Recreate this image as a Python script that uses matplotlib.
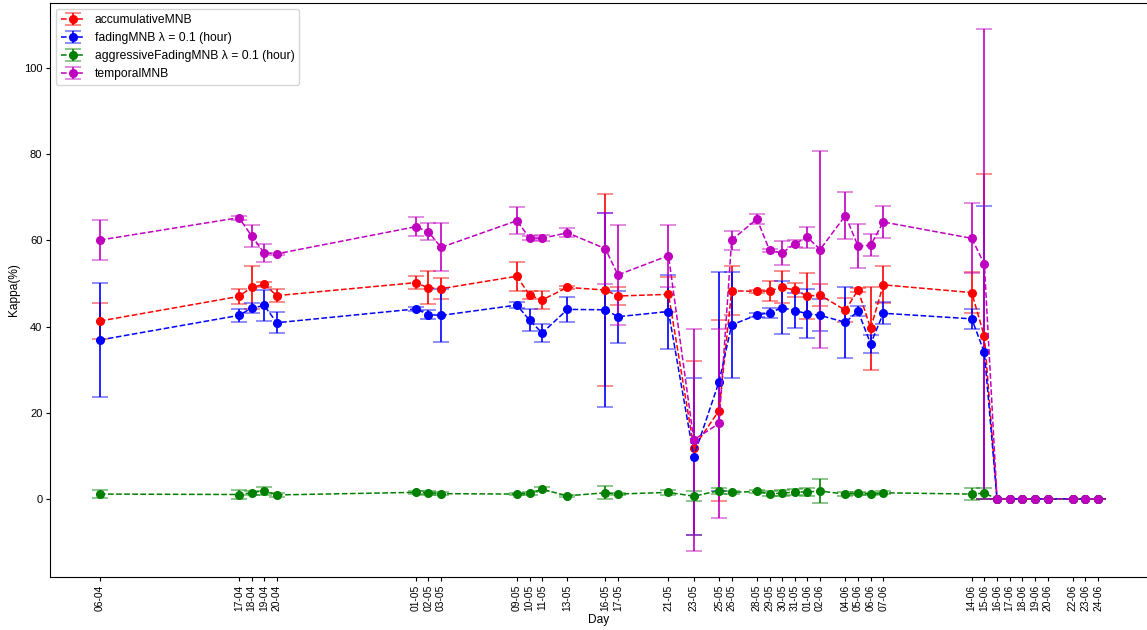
import datetime as dt

import matplotlib
matplotlib.use("Agg")
import matplotlib.pyplot as plt
import matplotlib.dates as mdates

plt.rcParams['font.family'] = ['Liberation Sans', 'DejaVu Sans']

# Evaluation days (day-month)
days = ['06-04', '17-04', '18-04', '19-04', '20-04', '01-05', '02-05', '03-05',
        '09-05', '10-05', '11-05', '13-05', '16-05', '17-05', '21-05', '23-05',
        '25-05', '26-05', '28-05', '29-05', '30-05', '31-05', '01-06', '02-06',
        '04-06', '05-06', '06-06', '07-06', '14-06', '15-06', '16-06', '17-06',
        '18-06', '19-06', '20-06', '22-06', '23-06', '24-06']

ZEROS = [0.0] * 8

accum_mean = [41.3, 47.0, 49.1, 49.8, 47.2, 50.2, 49.0, 48.8, 51.7, 47.3, 46.2, 49.1,
              48.5, 47.1, 47.5, 11.9, 20.5, 48.3, 48.2, 48.3, 49.1, 48.5, 47.1, 47.3,
              43.8, 48.5, 39.6, 49.7, 47.9, 37.7] + ZEROS
accum_err = [4.2, 1.8, 4.9, 0.6, 1.6, 1.5, 3.8, 2.5, 3.4, 1.0, 2.0, 0.3,
             22.3, 2.2, 4.1, 20.2, 21.0, 5.7, 0.3, 2.4, 3.7, 1.6, 5.3, 2.5,
             2.8, 0.5, 9.6, 4.3, 4.7, 37.8] + ZEROS

fading_mean = [36.9, 42.6, 44.3, 44.9, 40.9, 44.1, 42.8, 42.6, 45.0, 41.5, 38.5, 44.0,
               43.9, 42.3, 43.5, 9.8, 27.2, 40.4, 42.7, 43.2, 44.4, 43.7, 43.0, 42.6,
               41.0, 43.6, 36.0, 43.1, 41.8, 34.0] + ZEROS
fading_err = [13.3, 1.5, 1.1, 3.6, 2.5, 0.5, 1.0, 6.1, 0.7, 2.5, 2.0, 2.9,
              22.6, 6.0, 8.6, 18.3, 25.5, 12.3, 0.4, 1.2, 6.2, 4.1, 5.7, 3.7,
              8.3, 1.2, 2.1, 2.6, 2.4, 34.1] + ZEROS

aggressive_mean = [1.1, 1.0, 1.4, 1.9, 0.9, 1.5, 1.4, 1.2, 1.1, 1.3, 2.2, 0.7,
                   1.4, 1.1, 1.5, 0.6, 1.9, 1.5, 1.7, 1.2, 1.3, 1.6, 1.6, 1.8,
                   1.1, 1.3, 1.1, 1.4, 1.1, 1.3] + ZEROS
aggressive_err = [0.9, 1.1, 0.5, 0.9, 0.4, 0.4, 0.5, 0.3, 0.3, 0.3, 0.5, 0.2,
                  1.5, 0.3, 0.5, 1.1, 0.7, 0.4, 0.3, 0.5, 0.7, 0.6, 1.0, 2.7,
                  0.4, 0.3, 0.3, 0.3, 1.4, 1.3] + ZEROS

temporal_mean = [60.1, 65.3, 61.1, 57.1, 56.9, 63.2, 62.0, 58.4, 64.6, 60.6, 60.5, 61.8,
                 58.1, 52.0, 56.5, 13.7, 17.5, 60.1, 65.0, 57.7, 57.1, 59.3, 60.7, 57.9,
                 65.8, 58.7, 58.9, 64.3, 60.5, 54.5] + ZEROS
temporal_err = [4.6, 0.5, 2.6, 2.0, 0.3, 2.2, 2.0, 5.6, 3.2, 0.4, 0.7, 1.1,
                8.3, 11.7, 7.2, 25.8, 22.0, 2.2, 1.2, 0.4, 2.7, 0.8, 2.4, 22.9,
                5.4, 5.2, 2.5, 3.8, 8.1, 54.6] + ZEROS

series = [
    ('accumulativeMNB', accum_mean, accum_err, 'r'),
    ('fadingMNB λ = 0.1 (hour)', fading_mean, fading_err, 'b'),
    ('aggressiveFadingMNB λ = 0.1 (hour)', aggressive_mean, aggressive_err, 'g'),
    ('temporalMNB', temporal_mean, temporal_err, 'm'),
]

x = [dt.datetime.strptime(d + '-2014', '%d-%m-%Y') for d in days]

fig = plt.figure(figsize=(11.47, 6.30), dpi=100)
ax = fig.add_axes([50 / 1147, 53 / 630, 1098 / 1147, 574 / 630])

for label, mean, err, color in series:
    cont = ax.errorbar(x, mean, yerr=err, fmt='o--', color=color, ecolor=color,
                       markersize=5.5, linewidth=1.1, elinewidth=1.2, capsize=6,
                       capthick=1.4, label=label)
    for cap in cont[1]:
        cap.set_alpha(0.45)

ax.set_xticks(x)
ax.xaxis.set_major_formatter(mdates.DateFormatter('%d-%m'))
ax.tick_params(axis='x', labelsize=7.4, labelrotation=90, length=3, pad=2.5)
ax.tick_params(axis='y', labelsize=8.0, length=3, pad=2.5)
ax.set_yticks([0, 20, 40, 60, 80, 100])

ax.set_xlabel('Day', fontsize=8.6, labelpad=2)
ax.set_ylabel('Kappa(%)', fontsize=8.6, labelpad=3)

ax.legend(loc='upper left', fontsize=8.7)

fig.savefig('out.png', dpi=100)
